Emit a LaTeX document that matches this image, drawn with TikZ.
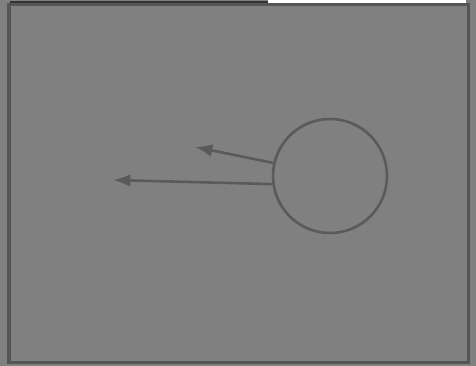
\documentclass[tikz,border=0pt]{standalone}
\usepackage{tikz}
\usetikzlibrary{arrows.meta}
\definecolor{SceneGray}{HTML}{808080}
\definecolor{FrameGray}{HTML}{555555}
\definecolor{InkGray}{HTML}{5A5A5A}

\begin{document}
\begin{tikzpicture}[x=0.03cm, y=-0.03cm, line width=2.1pt,
    ink/.style={InkGray, line width=2.2pt},
    pointer/.style={ink, -{Latex[length=5.2mm, width=3.8mm]}}]
    % backdrop and frame
    \fill[SceneGray] (0,0) rectangle (476,366);
    \useasboundingbox (0,0) rectangle (476,366);
    \fill[white] (268,0) rectangle (466,3);
    \fill[black!80] (10,1.5) rectangle (268,5);
    \draw[FrameGray, line width=2.8pt] (9,4.5) rectangle (468.5,362.5);

    % ball and its two pointers
    \node[draw, ink, circle, minimum size=3.42cm, inner sep=0pt] (ball) at (330,176) {};
    \coordinate (tipA) at (195,147);
    \coordinate (tipB) at (113,180);
    \draw[pointer] (ball.167) -- (tipA);
    \draw[pointer] (ball.188) -- (tipB);
\end{tikzpicture}
\end{document}
